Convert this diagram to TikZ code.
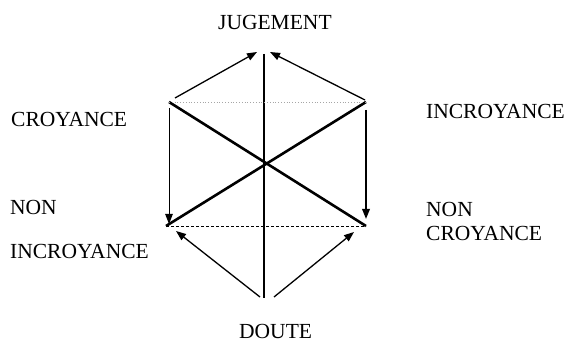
\documentclass[tikz,border=0pt]{standalone}
\usepackage{fontspec}
\setmainfont{Liberation Serif}
\usetikzlibrary{arrows.meta}
\tikzset{
  lbl/.style={anchor=base west,inner sep=0pt,font=\fontsize{21.5}{26}\selectfont},
  axe/.style={line width=2.6pt},
  fleche/.style={line width=1.3pt,-{Triangle[length=10pt,width=7.5pt]}},
}
\begin{document}
\begin{tikzpicture}[x=1pt,y=-1pt]
\useasboundingbox (0,0) rectangle (573,344);
% sommets
\coordinate (haut) at (264,54);
\coordinate (bas) at (264,298);
\coordinate (hg) at (169,102);
\coordinate (hd) at (366,102);
\coordinate (bg) at (166,226);
\coordinate (bd) at (366,226);
% libelles
\node[lbl] (jug) at (218,30) {JUGEMENT};
\node[lbl] (dou) at (239,339) {DOUTE};
\node[lbl] (cro) at (11,127) {CROYANCE};
\node[lbl] (inc) at (426,119) {INCROYANCE};
\node[lbl] (nong) at (10,215) {NON};
\node[lbl] (incg) at (10,259) {INCROYANCE};
\node[lbl] (nond) at (426,217) {NON};
\node[lbl] (crod) at (426,241) {CROYANCE};
% axes
\draw[axe] (haut) -- (bas);
\draw[axe] (hg) -- (bd);
\draw[axe] (hd) -- (bg);
\draw[gray!70,dotted,line width=0.8pt] (hg) -- (hd);
\draw[dashed,dash pattern=on 3pt off 2pt,line width=0.8pt] (bg) -- (bd);
% fleches
\draw[fleche] ([xshift=6pt,yshift=4pt]hg) -- ([xshift=-7pt,yshift=2pt]haut);
\draw[fleche] ([xshift=-1pt,yshift=2pt]hd) -- ([xshift=6pt,yshift=2pt]haut);
\draw[fleche,line width=1pt] ([yshift=-6pt]hg) -- ([yshift=2pt]hg |- bg);
\draw[fleche,line width=1.8pt] ([yshift=-8pt]hd) -- ([yshift=7pt]bd);
\draw[fleche] ([xshift=-4pt,yshift=1pt]bas) -- ([xshift=10pt,yshift=-5pt]bg);
\draw[fleche] ([xshift=10pt,yshift=1pt]bas) -- ([xshift=-12pt,yshift=-6pt]bd);
\end{tikzpicture}
\end{document}
